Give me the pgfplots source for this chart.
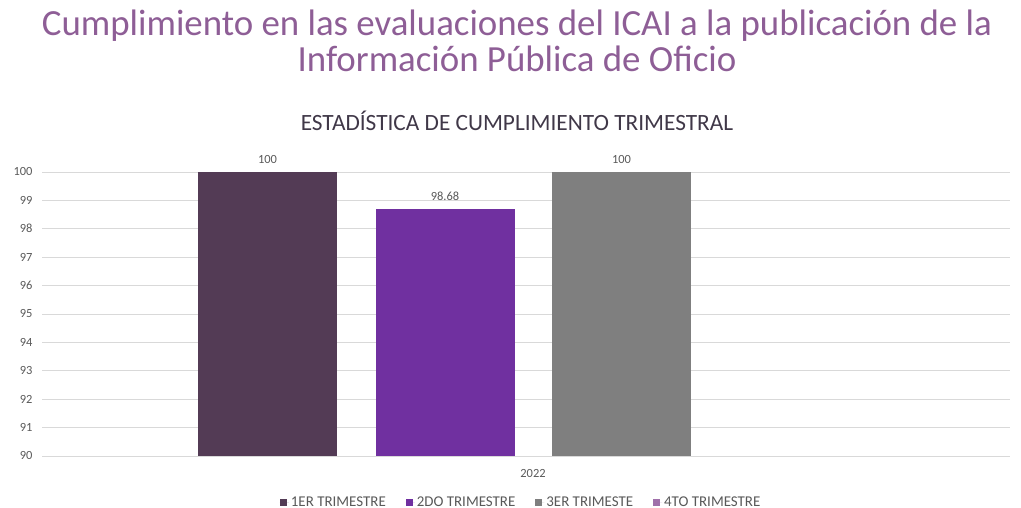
\documentclass[border=0pt]{standalone}
\usepackage{fontspec}
\setmainfont{Carlito}
\usepackage{pgfplots}
\pgfplotsset{compat=1.18}
\definecolor{titlec}{RGB}{142,94,150}
\definecolor{subc}{RGB}{64,56,72}
\definecolor{c1}{RGB}{83,59,85}
\definecolor{c2}{RGB}{112,48,160}
\definecolor{c3}{RGB}{127,127,127}
\definecolor{c4}{RGB}{160,112,170}
\definecolor{gridc}{RGB}{217,217,217}
\definecolor{tickc}{RGB}{89,89,89}
\pgfplotsset{sq/.style={legend image code/.code={\fill[##1] (0bp,-3.5bp) rectangle (7bp,3.5bp); \path (0bp,0bp) -- (9bp,0bp);}}}
\begin{document}
\begin{tikzpicture}[x=1bp,y=1bp]
\path[use as bounding box] (0,0) rectangle (1021,508);
\node[text=titlec, font=\fontsize{37}{40}\selectfont, anchor=base] at (517,472) {Cumplimiento en las evaluaciones del ICAI a la publicación de la};
\node[text=titlec, font=\fontsize{37}{40}\selectfont, anchor=base] at (517,436) {Información Pública de Oficio};
\node[text=subc, font=\fontsize{23.4}{25}\selectfont, anchor=base] at (517,377) {ESTADÍSTICA DE CUMPLIMIENTO TRIMESTRAL};
\begin{axis}[
  at={(42bp,52bp)}, anchor=south west, scale only axis,
  width=968bp, height=284bp,
  xmin=-491, xmax=477, ymin=90, ymax=100,
  ytick={90,91,...,100}, xtick={0}, xticklabels={2022},
  ymajorgrids, grid style={gridc, line width=0.9bp},
  axis line style={draw=none}, major tick length=0pt,
  tick label style={font=\fontsize{12.5}{14}\selectfont, text=tickc},
  yticklabel style={anchor=east, xshift=-6bp},
  xticklabel style={yshift=-10bp},
  /pgf/number format/assume math mode=true,
  ybar, bar width=139,
  nodes near coords,
  nodes near coords style={font=\fontsize{12.5}{14}\selectfont, text=tickc, yshift=5bp},
  clip=false,
  legend columns=4,
  legend style={draw=none, at={(0.495,-0.162)}, anchor=center,
    font=\fontsize{15}{16}\selectfont, text=tickc,
    /tikz/every even column/.append style={column sep=18bp}},
]
\addplot[fill=c1, draw=none, bar shift=-265.5, sq] coordinates {(0,100)};
\addlegendentry{1ER TRIMESTRE}
\addplot[fill=c2, draw=none, bar shift=-88, sq] coordinates {(0,98.68)};
\addlegendentry{2DO TRIMESTRE}
\addplot[fill=c3, draw=none, bar shift=88.5, sq] coordinates {(0,100)};
\addlegendentry{3ER TRIMESTE}
\addlegendimage{fill=c4, draw=none, sq}
\addlegendentry{4TO TRIMESTRE}
\end{axis}
\end{tikzpicture}
\end{document}
